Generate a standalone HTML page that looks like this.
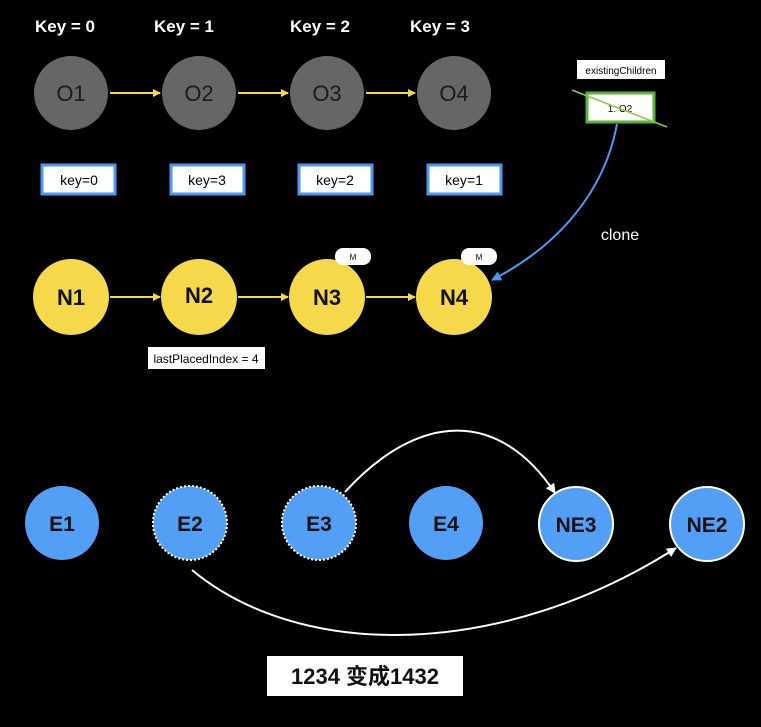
<!DOCTYPE html>
<html><head><meta charset="utf-8"><style>html,body{margin:0;padding:0;background:#000;}svg{display:block}</style></head>
<body>
<svg width="761" height="727" viewBox="0 0 761 727" xmlns="http://www.w3.org/2000/svg" font-family="Liberation Sans, Noto Sans CJK SC, sans-serif">
<defs>
<marker id="ay" markerWidth="8" markerHeight="8" refX="7" refY="4" orient="auto" markerUnits="userSpaceOnUse"><path d="M0,0 L8,4 L0,8 z" fill="#f5d94a"/></marker>
<marker id="aw" markerWidth="10" markerHeight="10" refX="9" refY="5" orient="auto" markerUnits="userSpaceOnUse"><path d="M0,0 L10,5 L0,10 z" fill="#fff"/></marker>
<marker id="ab" markerWidth="10" markerHeight="10" refX="9" refY="5" orient="auto" markerUnits="userSpaceOnUse"><path d="M0,0 L10,5 L0,10 z" fill="#4a9af5"/></marker>
</defs>
<rect width="761" height="727" fill="#000"/>
<g fill="#fff" font-size="17" font-weight="600" text-anchor="middle">
<text x="65" y="32">Key = 0</text><text x="184" y="32">Key = 1</text><text x="320" y="32">Key = 2</text><text x="440" y="32">Key = 3</text>
</g>
<g stroke="#f5d94a" stroke-width="2" marker-end="url(#ay)">
<line x1="110" y1="93" x2="160" y2="93"/><line x1="238" y1="93" x2="288" y2="93"/><line x1="366" y1="93" x2="415" y2="93"/>
<line x1="110" y1="297" x2="160" y2="297"/><line x1="238" y1="297" x2="288" y2="297"/><line x1="366" y1="297" x2="415" y2="297"/>
</g>
<g fill="#666"><circle cx="71" cy="93" r="37"/><circle cx="199" cy="93" r="37"/><circle cx="327" cy="93" r="37"/><circle cx="454" cy="93" r="37"/></g>
<g fill="#1a1a1a" font-size="22" text-anchor="middle"><text x="71" y="101">O1</text><text x="199" y="101">O2</text><text x="327" y="101">O3</text><text x="454" y="101">O4</text></g>
<g fill="#fff" stroke="#4a9af5" stroke-width="3">
<rect x="42" y="165" width="73" height="29"/><rect x="171" y="165" width="73" height="29"/><rect x="299" y="165" width="73" height="29"/><rect x="428" y="165" width="73" height="29"/></g>
<g fill="#000" font-size="14" text-anchor="middle"><text x="79" y="185">key=0</text><text x="207" y="185">key=3</text><text x="335" y="185">key=2</text><text x="464" y="185">key=1</text></g>
<rect x="577" y="60" width="88" height="19" fill="#fff"/><text x="621" y="74" font-size="10" text-anchor="middle" fill="#000">existingChildren</text>
<rect x="587" y="93" width="67" height="29" fill="#fff" stroke="#5db33a" stroke-width="3"/><text x="620" y="112" font-size="10" text-anchor="middle" fill="#000">1: O2</text>
<line x1="572" y1="90" x2="667" y2="127" stroke="#7cd04a" stroke-width="1.5"/>
<path d="M617,124 C605,190 560,245 492,280" fill="none" stroke="#4a9af5" stroke-width="2" marker-end="url(#ab)"/>
<text x="620" y="240" font-size="16" fill="#fff" text-anchor="middle">clone</text>
<g fill="#f5d94a"><circle cx="71" cy="297" r="38"/><circle cx="199" cy="297" r="38"/><circle cx="327" cy="297" r="38"/><circle cx="454" cy="297" r="38"/></g>
<g fill="#111" font-size="22" font-weight="bold" text-anchor="middle"><text x="71" y="305">N1</text><text x="199" y="303">N2</text><text x="327" y="305">N3</text><text x="454" y="305">N4</text></g>
<rect x="335" y="248" width="36" height="17" rx="8" fill="#fff"/><text x="353" y="260" font-size="8" text-anchor="middle" fill="#000">M</text>
<rect x="461" y="248" width="36" height="17" rx="8" fill="#fff"/><text x="479" y="260" font-size="8" text-anchor="middle" fill="#000">M</text>
<rect x="148" y="347" width="117" height="22" fill="#fff"/><text x="206" y="363" font-size="12" text-anchor="middle" fill="#000">lastPlacedIndex = 4</text>
<path d="M345,492 C420,410 500,410 555,493" fill="none" stroke="#fff" stroke-width="2" marker-end="url(#aw)"/>
<path d="M192,570 C300,660 500,660 676,548" fill="none" stroke="#fff" stroke-width="2" marker-end="url(#aw)"/>
<g fill="#529ff5">
<circle cx="62" cy="523" r="37"/>
<circle cx="190" cy="523" r="37" stroke="#fff" stroke-width="2" stroke-dasharray="2,2"/>
<circle cx="319" cy="523" r="37" stroke="#fff" stroke-width="2" stroke-dasharray="2,2"/>
<circle cx="446" cy="523" r="37"/>
<circle cx="576" cy="524" r="37" stroke="#fff" stroke-width="2"/>
<circle cx="707" cy="524" r="37" stroke="#fff" stroke-width="2"/>
</g>
<g fill="#111" font-size="21" font-weight="bold" text-anchor="middle"><text x="62" y="531">E1</text><text x="190" y="531">E2</text><text x="319" y="531">E3</text><text x="446" y="531">E4</text><text x="576" y="532">NE3</text><text x="707" y="532">NE2</text></g>
<rect x="267" y="656" width="196" height="40" fill="#fff"/>
<text x="365" y="684" font-size="22" font-weight="bold" text-anchor="middle" fill="#111">1234 变成1432</text>
</svg>
</body></html>
